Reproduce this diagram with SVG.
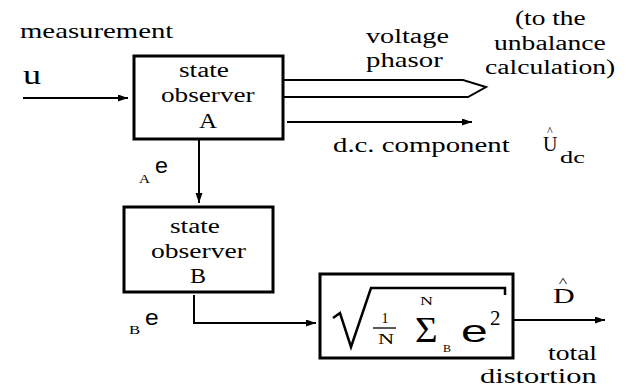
<svg xmlns="http://www.w3.org/2000/svg" width="626" height="387" viewBox="0 0 626 387">
<defs>
<marker id="ah" markerUnits="userSpaceOnUse" markerWidth="11" markerHeight="8" refX="10" refY="3.5" orient="auto">
<path d="M0,0 L10,3.5 L0,7 z" fill="#000"/>
</marker>
</defs>
<rect width="626" height="387" fill="#fff"/>
<g id="connectors" fill="none" stroke="#000" stroke-width="2">
<path d="M23,98 H128" marker-end="url(#ah)"/>
<path d="M199,140 V203" marker-end="url(#ah)"/>
<path d="M287,122 H472" marker-end="url(#ah)"/>
<path d="M194,295 V323 H316" marker-end="url(#ah)"/>
<path d="M513,320 H605" marker-end="url(#ah)"/>
<path d="M283,80 H463 L486,87 L468,97 H283"/>
</g>
<g fill="#000">
<g id="labels">
<text font-family="Liberation Serif" font-size="21" transform="translate(20,38) scale(1.37,1)">measurement</text>
<text font-family="Liberation Serif" font-size="28" transform="translate(23,84) scale(1.29,1)">u</text>
<text font-family="Liberation Serif" font-size="20" transform="translate(366,43) scale(1.41,1)">voltage</text>
<text font-family="Liberation Serif" font-size="20" transform="translate(366,67) scale(1.44,1)">phasor</text>
<text font-family="Liberation Serif" font-size="20" transform="translate(515,25) scale(1.37,1)">(to the</text>
<text font-family="Liberation Serif" font-size="20" transform="translate(494,50) scale(1.38,1)">unbalance</text>
<text font-family="Liberation Serif" font-size="20" transform="translate(485,74) scale(1.38,1)">calculation)</text>
<text font-family="Liberation Serif" font-size="20" transform="translate(333,152) scale(1.44,1)">d.c. component</text>
<text font-family="Liberation Serif" font-size="20" transform="translate(543,151)"><tspan x="4" y="-16" font-size="12">^</tspan><tspan x="0" y="0">U</tspan></text>
<text font-family="Liberation Serif" font-size="17" transform="translate(560,163) scale(1.55,1)">dc</text>
<text font-family="Liberation Serif" font-size="12" transform="translate(139,183) scale(1.27,1)">A</text>
<text font-family="Liberation Sans" font-size="22" transform="translate(155,173) scale(1.06,1)">e</text>
<text font-family="Liberation Serif" font-size="12" transform="translate(129,334) scale(1.4,1)">B</text>
<text font-family="Liberation Sans" font-size="22" transform="translate(145,325) scale(1.12,1)">e</text>
<text font-family="Liberation Serif" font-size="20" transform="translate(553,303) scale(1.5,1)"><tspan x="3.9" y="-17" font-size="12">^</tspan><tspan x="0" y="0">D</tspan></text>
<text font-family="Liberation Serif" font-size="20" transform="translate(548,360) scale(1.38,1)">total</text>
<text font-family="Liberation Serif" font-size="21" transform="translate(480,383) scale(1.45,1)">distortion</text>
</g>
<g id="observerA">
<rect x="134" y="56" width="149" height="83" fill="#fff" stroke="#000" stroke-width="3"/>
<text font-family="Liberation Serif" font-size="20" transform="translate(179,77) scale(1.36,1)">state</text>
<text font-family="Liberation Serif" font-size="20" transform="translate(161,102) scale(1.36,1)">observer</text>
<text font-family="Liberation Serif" font-size="20" transform="translate(199,128) scale(1.25,1)">A</text>
</g>
<g id="observerB">
<rect x="124" y="207" width="149" height="85" fill="#fff" stroke="#000" stroke-width="3"/>
<text font-family="Liberation Serif" font-size="20" transform="translate(170,233) scale(1.36,1)">state</text>
<text font-family="Liberation Serif" font-size="20" transform="translate(151,258) scale(1.38,1)">observer</text>
<text font-family="Liberation Serif" font-size="20" transform="translate(190,283) scale(1.2,1)">B</text>
</g>
<g id="rmsBlock">
<rect x="320" y="274" width="193" height="84" fill="#fff" stroke="#000" stroke-width="3"/>
<path d="M333,318 L340,313 L351,347 L371,288 H505 V295" fill="none" stroke="#000" stroke-width="2.5"/>
<text font-family="Liberation Serif" font-size="14" x="385" y="323" text-anchor="middle">1</text>
<line x1="373" y1="328" x2="396" y2="328" stroke="#000" stroke-width="1.3"/>
<text font-family="Liberation Serif" font-size="14" transform="translate(378,344) scale(1.6,1)">N</text>
<text font-family="Liberation Serif" font-size="12" transform="translate(420,305) scale(1.5,1)">N</text>
<text font-family="Liberation Serif" font-size="36" transform="translate(415,342) scale(1.08,1)">Σ</text>
<text font-family="Liberation Serif" font-size="10" transform="translate(443,352) scale(1.2,1)">B</text>
<text font-family="Liberation Sans" font-size="32" transform="translate(461,342) scale(1.5,1)">e</text>
<text font-family="Liberation Serif" font-size="21" x="490" y="325">2</text>
</g>
</g>
</svg>
